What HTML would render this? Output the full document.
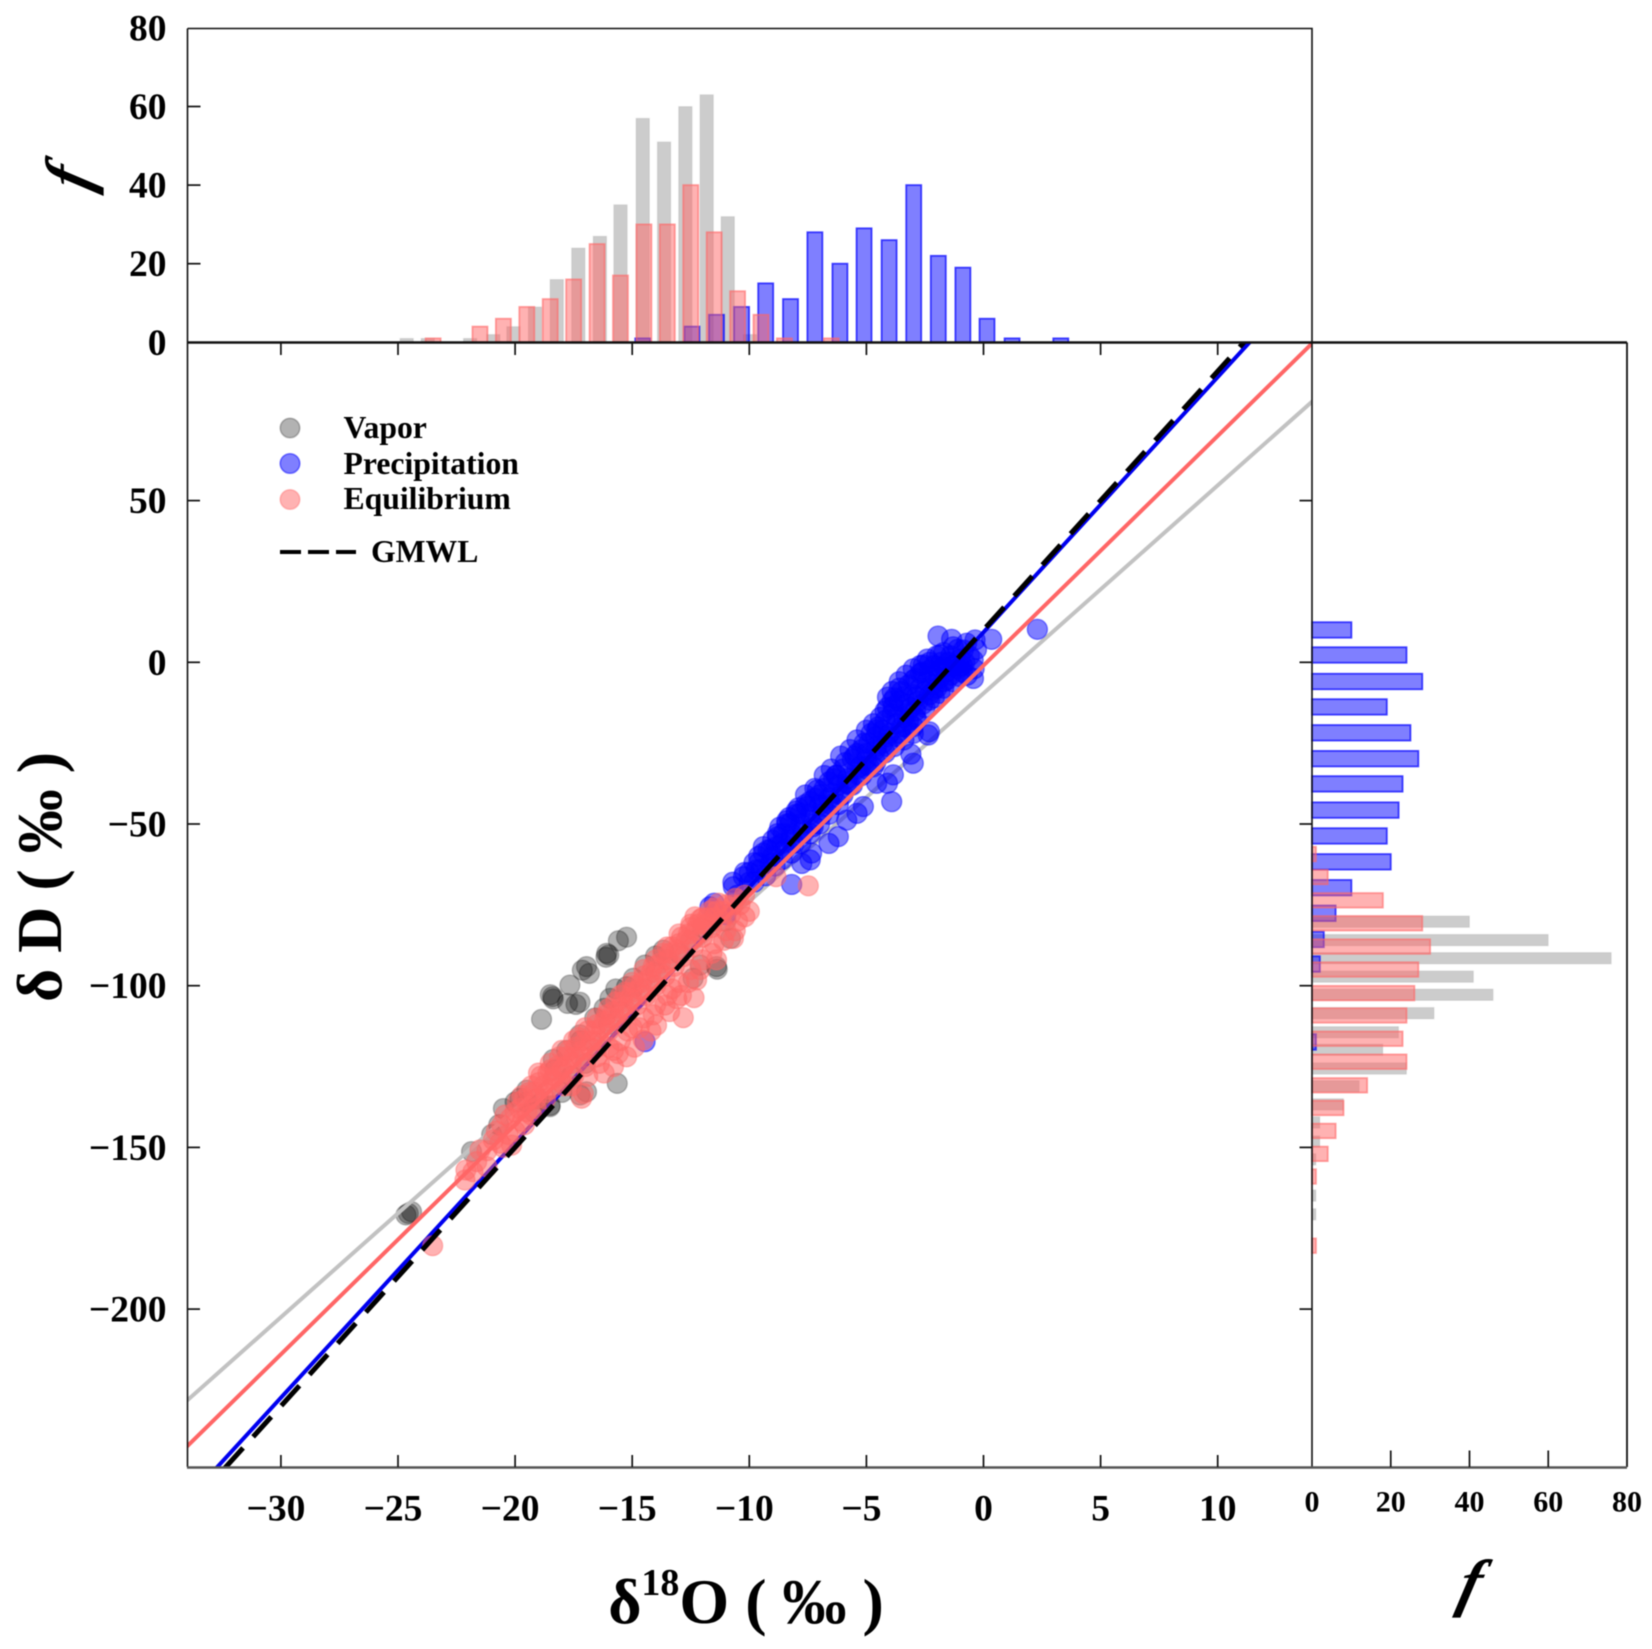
<!DOCTYPE html>
<html lang="en">
<head>
<meta charset="utf-8">
<title>Isotope scatter with marginal histograms</title>
<style>
html,body{margin:0;padding:0;background:#fff;width:1652px;height:1649px;overflow:hidden}
svg{display:block;filter:blur(.45px)}
text{font-family:"Liberation Serif","DejaVu Serif",serif;font-weight:bold;fill:#000}
</style>
</head>
<body>
<svg id="chart" xmlns="http://www.w3.org/2000/svg" width="1652" height="1649" viewBox="0 0 1652 1649">
  <defs>
    <clipPath id="main-clip"><rect x="187.5" y="342.5" width="1124.5" height="1125"/></clipPath>
  </defs>
  <rect x="0" y="0" width="1652" height="1649" fill="#fff"/>
  <g id="top-hist"></g>
  <g id="right-hist"></g>
  <g id="main-plot" clip-path="url(#main-clip)"></g>
  <g id="frames" fill="none" stroke="#111">
    <path d="M187.5 28.5H1312V342.5M187.5 28.5V1467" stroke-width="1.6"/>
    <path d="M187.5 342.5H1627" stroke-width="2.4"/>
    <path d="M1312 342.5V1467" stroke-width="1.6"/>
    <path d="M1627 342.5V1467" stroke-width="1.8"/>
    <path d="M187 1467.5H1627" stroke-width="2.6" stroke="#555"/>
  </g>
  <g id="ticks" stroke="#111" stroke-width="1.7"></g>
  <g id="labels"></g>

  <g>
    <circle cx="290" cy="428" r="9.8" fill="rgba(0,0,0,.3)" stroke="rgba(0,0,0,.25)" stroke-width="1.5"/>
    <circle cx="290" cy="463.5" r="9.8" fill="rgba(0,0,255,.5)" stroke="rgba(0,0,255,.5)" stroke-width="1.5"/>
    <circle cx="290" cy="499.5" r="9.8" fill="rgba(255,102,102,.5)" stroke="rgba(255,102,102,.4)" stroke-width="1.5"/>
    <text x="343.5" y="438" font-size="31.7">Vapor</text>
    <text x="343.5" y="474" font-size="31.7">Precipitation</text>
    <text x="343.5" y="509" font-size="31.7">Equilibrium</text>
    <line x1="280" y1="552" x2="356" y2="552" stroke="#000" stroke-width="4" stroke-dasharray="21 7"/>
    <text x="371" y="562" font-size="31.7">GMWL</text>
  </g>

  <text x="746" y="1623" text-anchor="middle" font-size="64">δ<tspan font-size="38" dy="-28">18</tspan><tspan dy="28">O ( ‰ )</tspan></text>
  <text transform="translate(61,877) rotate(-90)" text-anchor="middle" font-size="64">δ D ( ‰ )</text>
  <text transform="translate(1466,1604) skewX(-14)" text-anchor="middle" font-size="64" font-style="italic">f</text>
  <text transform="translate(90,182) rotate(-90) skewX(-14)" text-anchor="middle" font-size="64" font-style="italic">f</text>
</svg>

<script>
// ---------- top histogram (delta-18O bins) ----------
const vaporTopBins = [-24.63,-23.73,-21.92,-20.93,-20.07,-19.15,-18.22,-17.3,-16.38,-15.5,-14.55,-13.64,-12.73,-11.82,-10.92,-9.97];
const vaporTopCounts = [1,1,1,2,4,9,16,24,27,35,57,51,60,63,32,2];
const precipTopBins = [-14.55,-12.45,-11.4,-10.33,-9.3,-8.24,-7.2,-6.13,-5.1,-4.03,-2.98,-1.93,-0.88,0.15,1.22,3.3];
const precipTopCounts = [1,4,7,9,15,11,28,20,29,26,40,22,19,6,1,1];
const equilTopBins = [-23.5,-21.5,-20.5,-19.5,-18.5,-17.5,-16.5,-15.5,-14.5,-13.5,-12.5,-11.5,-10.5,-9.5,-8.5,-6.5];
const equilTopCounts = [1,4,6,9,11,16,25,17,30,30,40,28,13,7,1,1];

// ---------- right histogram (delta-D bins) ----------
const vaporRightBins = [-80.2,-85.9,-91.5,-97.2,-102.8,-108.5,-114.4,-119.8,-125.6,-131.1,-136.7,-142.3,-148.2,-153.7,-164.9,-170.7];
const vaporRightCounts = [40,60,76,41,46,31,22,18,24,12,8,2,2,1,1,1];
const precipRightBins = [10,2.26,-5.94,-13.8,-21.8,-29.8,-37.6,-45.7,-53.7,-61.7,-69.7,-77.6,-85.7,-93.3,-117.4];
const precipRightCounts = [10,24,28,19,25,27,23,22,19,20,10,6,3,2,1];
const equilRightBins = [-59.3,-66.4,-73.6,-80.7,-87.9,-95,-102.3,-109.2,-116.4,-123.5,-130.8,-137.8,-144.9,-152,-159,-180.4];
const equilRightCounts = [1,4,18,28,30,27,26,24,23,24,14,8,6,4,1,1];

// ---------- regression lines [slope, intercept] ----------
const vaporFit = [6.43,-9.6];
const precipFit = [7.89,9.3];
const equilFit = [7.1,-1];
const gmwlFit = [8,10];

// ---------- scatter points [delta18O, deltaD] ----------
const vaporPoints = [[-15.24,-85],[-15.59,-86.1],[-16.09,-90],[-16.12,-91.2],[-16,-90.5],[-16.95,-94.1],[-17.13,-95.2],[-16.83,-96.2],[-17.66,-99.8],[-18.4,-103.4],[-18.37,-104.1],[-18.5,-102.8],[-17.76,-105.5],[-17.23,-105.1],[-17.4,-105.8],[-18.87,-110.4],[-11.37,-94.9],[-11.4,-94.1],[-15.64,-130.2],[-18.37,-122.8],[-17.23,-115.2],[-24.56,-170.4],[-24.66,-170.9],[-24.42,-169.9],[-21.86,-151.3],[-17.23,-133.8],[-16.95,-132.8],[-18.51,-137.4],[-19.79,-134.8],[-19.5,-132.3],[-15.24,-100.3],[-14.95,-97.7],[-14.45,-93.6],[-14,-90.8],[-13.67,-89],[-15.95,-103.9],[-10.8,-85.4],[-12.1,-93.6],[-12.4,-97.7],[-20.5,-138],[-20,-136],[-19.5,-136],[-19,-135],[-18.5,-137],[-18,-133],[-17.6,-128],[-17,-124],[-16.5,-119],[-16,-112],[-15.5,-108],[-15,-104],[-14.5,-101],[-14,-96],[-13.5,-92],[-13,-90],[-12.5,-86],[-12,-82],[-11.5,-78],[-11,-80],[-18.3,-126],[-17.8,-120],[-17.2,-117],[-16.6,-110],[-16.2,-107],[-15.7,-101],[-21,-146],[-20.7,-143],[-19.2,-139]];

const precipPoints = [[-1.94,8.1],[-1.36,7.1],[0.35,7.1],[2.3,10.2],[-0.36,6.9],[-0.72,5.9],[-1.29,4.8],[-1.86,2.3],[-2.57,-0.8],[-2.3,-2.4],[-3,-5.5],[-4.1,-10.8],[-3.6,-8],[-1,-1.3],[-0.44,0.7],[-0.86,3.8],[-1.7,-1.3],[-1.57,-5.5],[-2.14,-8.5],[-2.7,-3.4],[-0.43,-5],[-1,-4.4],[-1.86,-9.6],[-2.3,-11.7],[-2.85,-10.6],[-3.4,-10.6],[-3.85,-13.7],[-3.28,-15.8],[-3.7,-16.8],[-2.85,-17.8],[-2.31,-21.5],[-2.36,-22.5],[-3.1,-28.4],[-3,-31.2],[-3.92,-43.1],[-3.85,-34.8],[-4.1,-37.4],[-4.56,-37.4],[-4.56,-26],[-5,-28.2],[-5.4,-28.2],[-4.56,-20.9],[-4.1,-23],[-5.13,-44.6],[-5.4,-46.7],[-5.84,-48.8],[-6.2,-53.9],[-6.6,-56],[-7.4,-61.1],[-7.76,-62.2],[-7.34,-59],[-8.19,-68.7],[-7.1,-39.5],[-6.27,-34.9],[-5.84,-37.4],[-6.41,-40.5],[-7.55,-44.6],[-8.26,-49.8],[-7.83,-46.7],[-7.27,-50.8],[-8.83,-57],[-9.4,-59],[-9.1,-62.2],[-9.7,-64.2],[-10.25,-66.3],[-10.68,-69.4],[-11.68,-75.6],[-8.26,-55],[-8.55,-52.9],[-7.69,-52.9],[-6.84,-44.6],[-4.7,-32.3],[-5.27,-32.3],[-3.56,-22],[-3,-19.9],[-14.45,-117.3],[-11.5,-74.5],[-10.7,-68],[-11,-78],[-10.5,-72],[-10,-68],[-9.5,-64],[-9,-60],[-8.6,-56],[-8.2,-53],[-7.8,-50],[-7.4,-47],[-7,-44],[-6.6,-42],[-6.2,-38],[-5.8,-36],[-5.4,-33],[-5,-30],[-4.6,-27],[-4.3,-25],[-4,-22],[-3.7,-19],[-3.4,-17],[-3.1,-14],[-2.8,-12],[-2.5,-9],[-2.2,-7],[-1.9,-5],[-1.6,-3],[-1.3,-1],[-1,1],[-4.2,-15],[-3.9,-12],[-3.6,-12],[-3.3,-13],[-3,-10],[-2.7,-8],[-2.4,-6],[-2.1,-4],[-1.8,-2],[-3.5,-20],[-3.2,-18],[-2.9,-15],[-2.6,-13],[-2.3,-10],[-2,-8],[-1.7,-6],[-1.4,-4],[-1.1,-2],[-0.8,0],[-5.2,-27],[-4.9,-25],[-4.6,-23],[-4.3,-21],[-5.6,-30],[-6,-33],[-6.4,-36],[-6.8,-39],[-7.2,-42],[-7.6,-44],[-8,-47],[-8.4,-50],[-8.8,-54],[-9.2,-58],[-9.6,-62],[-10,-65],[-5,-33],[-4.6,-31],[-4.2,-28],[-3.8,-26],[-6,-41],[-5.6,-38],[-5.2,-35],[-7,-50],[-6.6,-47],[-6.2,-44],[-7.8,-56],[-7.4,-53],[-8.6,-61],[-8.2,-59],[-3.4,-24],[-3,-22],[-10.2,-65],[-9.8,-62],[-9.4,-57],[-9,-55],[-8.7,-51],[-8.3,-48],[-7.9,-45],[-7.6,-41],[-7.2,-39],[-6.8,-35],[-6.5,-33],[-6.1,-29],[-5.7,-27],[-5.4,-24],[-5,-21],[-4.7,-19],[-4.4,-17],[-4.1,-14],[-3.8,-11],[-3.5,-9],[-3.2,-7],[-2.9,-5],[-2.6,-3],[-2.3,0],[-2,2],[-1.7,3],[-1.4,2],[-1.1,4],[-9.8,-68],[-9.3,-66],[-8.9,-63],[-8.5,-58],[-8.1,-56],[-7.7,-52],[-7.3,-50],[-6.9,-47],[-6.5,-44],[-6.1,-41],[-5.7,-38],[-5.3,-35],[-4.9,-32],[-4.5,-29],[-4.1,-26],[-3.7,-23],[-3.3,-20],[-2.9,-17],[-2.5,-14],[-2.1,-11],[-1.7,-8],[-1.3,-6],[-0.9,-3],[-9.6,-60],[-9.1,-58],[-8.8,-53],[-8.4,-49],[-8,-46],[-7.4,-43],[-7,-41],[-6.6,-37],[-6.3,-35],[-5.9,-31],[-5.5,-29],[-5.1,-25],[-4.8,-22],[-4.5,-20],[-4.2,-18],[-3.9,-16],[-3.9,-9],[-3.6,-6],[-3.3,-4],[-3,-2],[-2.7,-1],[-2.4,1],[-2.1,-1],[-1.8,0],[-1.5,0],[-1.2,-1],[-0.9,-1],[-0.6,2],[-0.3,4],[-0.4,-2],[-0.7,-4]];

const equilPoints = [[-23.52,-180.4],[-22.14,-160.1],[-22.1,-157],[-21.5,-150.8],[-20.43,-140],[-20.57,-143],[-20.93,-147.7],[-20.65,-148.7],[-20.15,-149.3],[-21.2,-156],[-21.64,-154.4],[-21.8,-157.5],[-17.16,-134.8],[-17.09,-133.3],[-15.8,-125],[-15.24,-122],[-14.53,-116.8],[-13.96,-112.2],[-12.82,-109.9],[-12.36,-103.7],[-12.25,-98.2],[-11.4,-92],[-10.68,-85.4],[-10.19,-78.7],[-12.32,-78.7],[-8.86,-66.3],[-7.48,-69.1],[-20.2,-141],[-20,-139],[-19.8,-138],[-19.6,-135],[-19.4,-133],[-19.2,-133],[-19,-130],[-18.8,-131],[-18.6,-127],[-18.4,-129],[-18.2,-125],[-18,-126],[-17.8,-122],[-17.6,-124],[-17.4,-119],[-17.2,-122],[-17,-117],[-16.8,-119],[-16.6,-114],[-16.4,-117],[-16.2,-111],[-16,-114],[-15.8,-108],[-15.6,-111],[-15.4,-105],[-15.2,-108],[-15,-102],[-14.8,-106],[-14.6,-99],[-14.4,-103],[-14.2,-96],[-14,-100],[-13.8,-93],[-13.6,-97],[-13.4,-90],[-13.2,-94],[-13,-87],[-12.8,-91],[-12.6,-84],[-12.4,-88],[-12.2,-81],[-12,-85],[-11.8,-79],[-11.6,-82],[-11.4,-77],[-11.2,-80],[-11,-75],[-10.8,-78],[-10.6,-73],[-10.4,-75],[-10.2,-72],[-18.5,-132],[-18,-130],[-17.5,-128],[-17,-125],[-16.5,-122],[-16,-119],[-15.5,-117],[-15,-113],[-14.5,-110],[-14,-106],[-13.5,-103],[-13,-99],[-12.5,-95],[-12,-92],[-11.5,-87],[-11,-83],[-10.5,-80],[-10,-77],[-19,-127],[-18.5,-124],[-18,-120],[-17.5,-117],[-17,-113],[-16.5,-110],[-16,-107],[-15.5,-103],[-15,-99],[-14.5,-95],[-14,-92],[-13.5,-88],[-13,-84],[-12.5,-81],[-12,-79],[-11.5,-76],[-16.2,-127],[-15.6,-121],[-14.9,-119],[-14.2,-114],[-13.4,-108],[-12.9,-103],[-13.3,-101],[-20.3,-146],[-19.7,-142],[-19.1,-138],[-18.7,-135],[-17.9,-131],[-16.9,-128],[-19.9,-136],[-19.5,-139],[-19.1,-135],[-18.7,-133],[-18.3,-128],[-17.9,-125],[-17.5,-122],[-17.1,-120],[-16.7,-117],[-16.3,-113],[-15.9,-110],[-15.5,-107],[-15.1,-104],[-14.7,-101],[-14.3,-98],[-13.9,-95],[-13.5,-92],[-13.1,-89],[-12.7,-86],[-12.3,-83],[-11.9,-81],[-11.5,-79],[-11.1,-77],[-10.7,-75],[-19.7,-134],[-19.3,-131],[-18.9,-128],[-18.5,-126],[-18.1,-122],[-17.7,-120],[-17.3,-116],[-16.9,-114],[-16.5,-112],[-16.1,-109],[-15.7,-105],[-15.3,-102],[-14.9,-100],[-14.5,-97],[-14.1,-94],[-13.7,-90],[-13.3,-88],[-12.9,-85],[-12.5,-82],[-12.1,-79.5],[-11.7,-77],[-11.3,-74.5],[-15.2,-114],[-14.7,-113],[-14.1,-109],[-13.6,-106],[-13.1,-104],[-12.6,-99],[-12.1,-95],[-11.6,-90],[-11.1,-86],[-10.6,-83],[-16.4,-124],[-15.8,-120],[-17.6,-131],[-21.2,-151],[-20.8,-145],[-20.5,-150],[-20,-145],[-19.6,-143],[-19.3,-140]];

// ---------- tick labels ----------
const xTickValues = [-30,-25,-20,-15,-10,-5,0,5,10];
const yTickValues = [50,0,-50,-100,-150,-200];
const topCountTicks = [0,20,40,60,80];
const rightCountTicks = [0,20,40,60,80];

// ---------- axis functions ----------
function sx(v){return 983.5+23.42*v;}
function sy(v){return 662.3-3.234*v;}
function topY(c){return 342.3-3.93*c;}
function rightX(c){return 1312+3.9375*c;}
function fmt(v){return v<0?'\u2212'+Math.abs(v):String(v);}

const NS='http://www.w3.org/2000/svg';
function make(tag,parent,attrs){
  const el=document.createElementNS(NS,tag);
  for(const k in attrs){el.setAttribute(k,attrs[k]);}
  parent.appendChild(el);
  return el;
}
const topG=document.getElementById('top-hist');
const rightG=document.getElementById('right-hist');
const mainG=document.getElementById('main-plot');
const tickG=document.getElementById('ticks');
const labelG=document.getElementById('labels');

const vaporBarStyle={fill:'rgba(0,0,0,.2)',stroke:'rgba(0,0,0,.04)','stroke-width':1.5};
const precipBarStyle={fill:'rgba(0,0,255,.5)',stroke:'rgba(0,0,255,.7)','stroke-width':1.8};
const equilBarStyle={fill:'rgba(255,102,102,.5)',stroke:'rgba(255,102,102,.6)','stroke-width':1.8};

function topBars(bins,counts,w,style,name){
  bins.forEach(function(b,i){
    const y=topY(counts[i]);
    const el=make('rect',topG,Object.assign({x:sx(b)-w/2,y:y,width:w,height:342.3-y},style));
    
    
  });
}
function rightBars(bins,counts,h,style,name){
  bins.forEach(function(b,i){
    const el=make('rect',rightG,Object.assign({x:1312,y:sy(b)-h/2,width:rightX(counts[i])-1312,height:h},style));
    
    
  });
}
topBars(vaporTopBins,vaporTopCounts,13.5,vaporBarStyle,'top-bar-vapor');
topBars(precipTopBins,precipTopCounts,15,precipBarStyle,'top-bar-precipitation');
topBars(equilTopBins,equilTopCounts,15,equilBarStyle,'top-bar-equilibrium');
rightBars(vaporRightBins,vaporRightCounts,11.5,vaporBarStyle,'right-bar-vapor');
rightBars(precipRightBins,precipRightCounts,15.5,precipBarStyle,'right-bar-precipitation');
rightBars(equilRightBins,equilRightCounts,14.5,equilBarStyle,'right-bar-equilibrium');

function points(list,fill,stroke,name){
  list.forEach(function(p){
    const el=make('circle',mainG,{cx:sx(p[0]),cy:sy(p[1]),r:10,fill:fill,stroke:stroke,'stroke-width':1.4});
    
    
  });
}
function fitLine(fit,color,width,dash,name){
  const xa=-36,xb=16;
  const el=make('line',mainG,{x1:sx(xa),y1:sy(fit[0]*xa+fit[1]),x2:sx(xb),y2:sy(fit[0]*xb+fit[1]),stroke:color,'stroke-width':width});
  if(dash){el.setAttribute('stroke-dasharray',dash);}
  
  
}
points(vaporPoints,'rgba(0,0,0,.3)','rgba(0,0,0,.22)','point-vapor');
fitLine(vaporFit,'#c2c2c2',4,null,'fit-line-vapor');
points(precipPoints,'rgba(0,0,255,.5)','rgba(0,0,255,.45)','point-precipitation');
fitLine(precipFit,'#0000f0',4,null,'fit-line-precipitation');
points(equilPoints,'rgba(255,102,102,.5)','rgba(255,102,102,.4)','point-equilibrium');
fitLine(equilFit,'#ff6666',4,null,'fit-line-equilibrium');
fitLine(gmwlFit,'#000',5,'27 15','gmwl-line');

function tick(x1,y1,x2,y2,name){
  const el=make('line',tickG,{x1:x1,y1:y1,x2:x2,y2:y2});
  
  
}
function label(txt,x,y,anchor,size,name){
  const el=make('text',labelG,{x:x,y:y,'text-anchor':anchor,'font-size':size});
  el.textContent=txt;
  
  
}
xTickValues.forEach(function(v){
  tick(sx(v),342.5,sx(v),355,'x-tick-top');
  tick(sx(v),1467,sx(v),1455,'x-tick-bottom');
  label(fmt(v),sx(v)-(v<0?5:0),1520.5,'middle',37.5,'x-tick-label');
});
yTickValues.forEach(function(v){
  tick(187.5,sy(v),200,sy(v),'y-tick-left');
  tick(1312,sy(v),1299.5,sy(v),'y-tick-right');
  label(fmt(v),166.5,sy(v)+12.5,'end',37.5,'y-tick-label');
});
topCountTicks.forEach(function(c){
  if(c>0&&c<80){tick(187.5,topY(c),200.5,topY(c),'top-count-tick');}
  label(String(c),166.5,topY(c)+12.5,'end',37.5,'top-count-label');
});
rightCountTicks.forEach(function(c){
  if(c>0&&c<80){tick(rightX(c),1467,rightX(c),1450.5,'right-count-tick');}
  label(String(c),rightX(c),1511.5,'middle',30,'right-count-label');
});
</script>
</body>
</html>
